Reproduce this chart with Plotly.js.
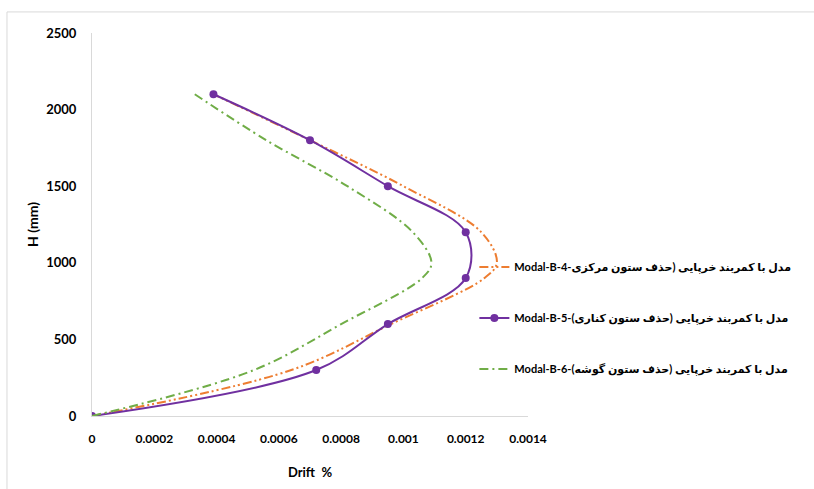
<!DOCTYPE html>
<html>
<head>
<meta charset="utf-8">
<script src="https://cdn.plot.ly/plotly-3.0.1.min.js"></script>
<style>
html,body{margin:0;padding:0;background:#fff;}
#chart{width:814px;height:489px;}
</style>
</head>
<body>
<div id="chart"></div>
<script>
// Heights (mm)
const heightsB5 = [0, 300, 600, 900, 1200, 1500, 1800, 2100];
const driftB5   = [0, 0.00072, 0.00095, 0.0012, 0.0012, 0.00095, 0.0007, 0.00039];

const heightsB4 = [0, 300, 600, 900, 1000, 1200, 1500, 1800, 2100];
const driftB4   = [0, 0.00064, 0.00096, 0.00126, 0.0013, 0.00125, 0.001, 0.0007, 0.00039];

const heightsB6 = [0, 300, 600, 900, 1000, 1200, 1500, 1800, 2100];
const driftB6   = [0, 0.00052, 0.0008, 0.00106, 0.00109, 0.00103, 0.00082, 0.00056, 0.00033];

const seriesNames = [
  "\u202Bمدل با کمربند خرپایی (حذف ستون مرکزی-Modal-B-4\u202C",
  "\u202Bمدل با کمربند خرپایی (حذف ستون کناری)-Modal-B-5\u202C",
  "\u202Bمدل با کمربند خرپایی (حذف ستون گوشه)-Modal-B-6\u202C"
];

const xTickVals = [0, 0.0002, 0.0004, 0.0006, 0.0008, 0.001, 0.0012, 0.0014];
const xTickText = ["0", "0.0002", "0.0004", "0.0006", "0.0008", "0.001", "0.0012", "0.0014"];
const yTickVals = [0, 500, 1000, 1500, 2000, 2500];
const yTickText = ["0", "500", "1000", "1500", "2000", "2500"];

const FONT = "Lato, 'DejaVu Sans', sans-serif";

const traces = [
  {
    x: driftB4, y: heightsB4, name: seriesNames[0], legendgroup: 'g1',
    mode: 'lines', type: 'scatter',
    line: {color: '#ED7D31', width: 2, shape: 'spline', smoothing: 1, dash: '9px,3px,2px,3px,2px,3px'}
  },
  {
    x: driftB5, y: heightsB5, name: seriesNames[1], legendgroup: 'g2',
    mode: 'lines+markers', type: 'scatter',
    line: {color: '#7030A0', width: 2, shape: 'spline', smoothing: 1},
    marker: {color: '#7030A0', size: 8}
  },
  {
    x: driftB6, y: heightsB6, name: seriesNames[2], legendgroup: 'g3',
    mode: 'lines', type: 'scatter',
    line: {color: '#70AD47', width: 2, shape: 'spline', smoothing: 1, dash: '9px,4px,2px,4px'}
  }
];

const layout = {
  width: 814, height: 489,
  margin: {l: 92, r: 286, t: 33, b: 73, pad: 0, autoexpand: false},
  paper_bgcolor: '#fff', plot_bgcolor: '#fff',
  font: {family: FONT, size: 13, color: '#000'},
  showlegend: true,
  legend: {
    x: 0.877, xanchor: 'left', y: 0.427, yanchor: 'top',
    font: {family: FONT, size: 11, color: '#000', weight: 'bold'},
    tracegroupgap: 32, traceorder: 'grouped', bgcolor: 'rgba(0,0,0,0)'
  },
  xaxis: {
    range: [0, 0.0014], tickvals: xTickVals, ticktext: xTickText,
    showgrid: false, zeroline: false, showline: true, linecolor: '#d9d9d9', linewidth: 1,
    ticks: '', ticklabelstandoff: 12,
    tickfont: {family: FONT, size: 12, color: '#000', weight: 'bold'},
    title: {text: 'Drift\u00a0\u00a0%', font: {family: FONT, size: 13, color: '#000', weight: 'bold'}, standoff: 22}
  },
  yaxis: {
    range: [0, 2500], tickvals: yTickVals, ticktext: yTickText,
    showgrid: false, zeroline: false, showline: true, linecolor: '#d9d9d9', linewidth: 1,
    ticks: '', ticklabelstandoff: 12,
    tickfont: {family: FONT, size: 13, color: '#000', weight: 'bold'},
    title: {text: 'H (mm)', font: {family: FONT, size: 14, color: '#000', weight: 'bold'}, standoff: 4}
  },
  shapes: [
    {type: 'line', xref: 'paper', yref: 'paper', x0: -0.195, x1: 1.7, y0: 1.055, y1: 1.055,
     line: {color: '#d9d9d9', width: 1}},
    {type: 'line', xref: 'paper', yref: 'paper', x0: -0.195, x1: -0.195, y0: 1.055, y1: -0.3,
     line: {color: '#d9d9d9', width: 1}}
  ]
};

Plotly.newPlot('chart', traces, layout, {displayModeBar: false, staticPlot: true});
</script>
</body>
</html>
